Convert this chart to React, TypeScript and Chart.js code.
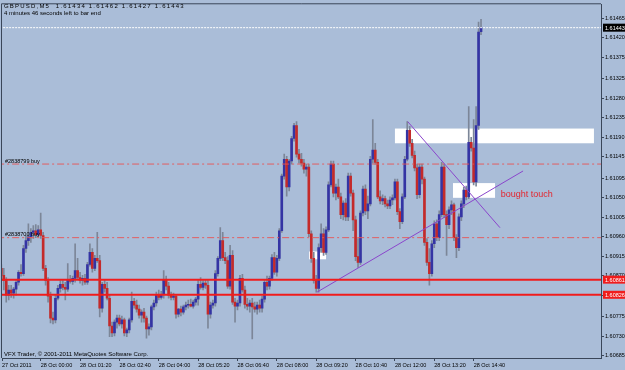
import React, { useEffect, useRef } from "react";
import { Chart, registerables } from "chart.js";

Chart.register(...registerables);

// ---------- data (GBPUSD M5, 27 Oct 22:40 .. 28 Oct 15:00) ----------
const OPEN = [
  1.60887, 1.60871, 1.60859, 1.60825, 1.60837, 1.6083, 1.60839, 1.60855, 1.60878, 1.60875,
  1.60933, 1.60951, 1.6096, 1.6097, 1.60974, 1.60965, 1.60976, 1.60963, 1.60887, 1.60859,
  1.60823, 1.60772, 1.60768, 1.60818, 1.60841, 1.6085, 1.60843, 1.60839, 1.60862, 1.60857,
  1.60864, 1.60882, 1.60866, 1.60859, 1.60864, 1.60855, 1.60896, 1.60924, 1.60887, 1.6091,
  1.60905, 1.60795, 1.6085, 1.60841, 1.60818, 1.60754, 1.60738, 1.60763, 1.60772, 1.60759,
  1.60768, 1.60738, 1.60745, 1.60768, 1.60811, 1.60802, 1.60793, 1.60779, 1.60786, 1.60772,
  1.60747, 1.60752, 1.60798, 1.60807, 1.60825, 1.6082, 1.60827, 1.60862, 1.60846, 1.60825,
  1.6082, 1.60823, 1.60781, 1.60793, 1.60786, 1.60798, 1.60802, 1.60804, 1.608, 1.60809,
  1.60816, 1.6085, 1.60843, 1.60853, 1.60848, 1.60781, 1.60802, 1.60807, 1.60875, 1.6091,
  1.60951, 1.60912, 1.60905, 1.60846, 1.60917, 1.60809, 1.608, 1.60807, 1.60864, 1.60837,
  1.60804, 1.608, 1.60807, 1.60798, 1.60793, 1.60802, 1.60795, 1.60816, 1.60855, 1.60846,
  1.60864, 1.60912, 1.60878, 1.6091, 1.60974, 1.611, 1.61139, 1.61075, 1.61135, 1.61187,
  1.61217, 1.61151, 1.61139, 1.6113, 1.61116, 1.61121, 1.60967, 1.6091, 1.60859, 1.60841,
  1.60935, 1.60967, 1.60924, 1.60976, 1.6108, 1.61128, 1.61061, 1.61075, 1.61052, 1.61011,
  1.61038, 1.61006, 1.611, 1.61061, 1.60999, 1.60914, 1.60901, 1.61015, 1.6107, 1.6102,
  1.61036, 1.61139, 1.6116, 1.61132, 1.61052, 1.61043, 1.61048, 1.61036, 1.61031, 1.61045,
  1.6105, 1.61087, 1.61018, 1.60995, 1.61052, 1.61139, 1.61206, 1.61176, 1.61148, 1.61119,
  1.61057, 1.61121, 1.61093, 1.60947, 1.60901, 1.60875, 1.60944, 1.6099, 1.60958, 1.61011,
  1.61121, 1.61011, 1.60988, 1.61022, 1.61034, 1.60958, 1.60935, 1.61006, 1.61036, 1.61068,
  1.61052, 1.61178, 1.61165, 1.61087, 1.61217, 1.61434,
];
const HIGH = [
  1.60896, 1.60887, 1.60866, 1.60848, 1.60848, 1.60843, 1.60859, 1.60882, 1.60896, 1.6094,
  1.60963, 1.6099, 1.60979, 1.60986, 1.60988, 1.60986, 1.61015, 1.6097, 1.60894, 1.60866,
  1.60832, 1.60786, 1.60825, 1.60848, 1.60859, 1.60859, 1.60855, 1.60898, 1.60871, 1.60869,
  1.60944, 1.6091, 1.60878, 1.60871, 1.60873, 1.60901, 1.60944, 1.60933, 1.60917, 1.6097,
  1.60917, 1.60855, 1.60862, 1.60855, 1.60825, 1.60763, 1.60768, 1.60779, 1.60779, 1.60777,
  1.60772, 1.60749, 1.60772, 1.60832, 1.60818, 1.60814, 1.60802, 1.60791, 1.60795, 1.60777,
  1.60759, 1.60802, 1.60814, 1.60832, 1.60837, 1.60834, 1.60882, 1.60869, 1.60855, 1.60832,
  1.6083, 1.60827, 1.60795, 1.608, 1.60802, 1.60809, 1.60814, 1.60816, 1.60814, 1.6082,
  1.60859, 1.60866, 1.60859, 1.60862, 1.60859, 1.60809, 1.60814, 1.60882, 1.60914, 1.60981,
  1.6097, 1.60924, 1.60914, 1.6094, 1.60928, 1.60818, 1.60814, 1.60871, 1.60873, 1.60846,
  1.60818, 1.60814, 1.60818, 1.60809, 1.60809, 1.60814, 1.60823, 1.60859, 1.60869, 1.60869,
  1.60919, 1.60924, 1.60917, 1.60979, 1.61105, 1.61151, 1.61146, 1.61139, 1.61192, 1.61222,
  1.61226, 1.61162, 1.61153, 1.61139, 1.61128, 1.61128, 1.60974, 1.60924, 1.60871, 1.60944,
  1.6099, 1.60979, 1.60983, 1.61087, 1.61135, 1.61135, 1.61082, 1.61093, 1.61061, 1.61043,
  1.61048, 1.61107, 1.61107, 1.61068, 1.61008, 1.60956, 1.6102, 1.61077, 1.6108, 1.61054,
  1.61146, 1.61231, 1.61176, 1.61139, 1.61066, 1.61057, 1.61054, 1.61045, 1.61052, 1.61057,
  1.61093, 1.61093, 1.61025, 1.61059, 1.61146, 1.61226, 1.61215, 1.61185, 1.61158, 1.61128,
  1.61128, 1.61128, 1.61098, 1.60956, 1.60933, 1.60951, 1.60997, 1.60999, 1.6102, 1.61132,
  1.61128, 1.6102, 1.61029, 1.61043, 1.61038, 1.60965, 1.61013, 1.61043, 1.61075, 1.61077,
  1.61261, 1.6119, 1.61231, 1.61261, 1.61456, 1.61462,
];
const LOW = [
  1.60859, 1.60837, 1.60809, 1.60814, 1.6082, 1.60818, 1.60825, 1.60848, 1.60869, 1.60871,
  1.60924, 1.6094, 1.60947, 1.60956, 1.60958, 1.6096, 1.60956, 1.60882, 1.60848, 1.60809,
  1.60761, 1.60759, 1.60761, 1.60814, 1.60832, 1.60837, 1.60814, 1.60834, 1.60853, 1.6085,
  1.60855, 1.60862, 1.60853, 1.60848, 1.6085, 1.6085, 1.60892, 1.60878, 1.60882, 1.60901,
  1.60775, 1.60786, 1.60832, 1.60814, 1.60729, 1.60729, 1.60731, 1.60749, 1.60754, 1.60749,
  1.60731, 1.60729, 1.60738, 1.60763, 1.60795, 1.60786, 1.60772, 1.60763, 1.60763, 1.60726,
  1.60733, 1.60745, 1.60791, 1.608, 1.60814, 1.60816, 1.60818, 1.60837, 1.60818, 1.60814,
  1.60814, 1.60772, 1.60775, 1.60777, 1.60781, 1.60791, 1.60795, 1.60798, 1.60795, 1.60802,
  1.60802, 1.60839, 1.60837, 1.60841, 1.60749, 1.60772, 1.60795, 1.608, 1.60869, 1.60905,
  1.60905, 1.60898, 1.60841, 1.60839, 1.60804, 1.60763, 1.60791, 1.608, 1.60832, 1.60795,
  1.60791, 1.60786, 1.60724, 1.60786, 1.60781, 1.60786, 1.60786, 1.60809, 1.60837, 1.60839,
  1.60859, 1.60873, 1.60869, 1.60905, 1.6097, 1.61093, 1.61054, 1.61066, 1.61128, 1.61181,
  1.61144, 1.6113, 1.61123, 1.61107, 1.611, 1.6096, 1.60901, 1.60853, 1.60832, 1.60832,
  1.60924, 1.60917, 1.60919, 1.60972, 1.61075, 1.61052, 1.61045, 1.61048, 1.61002, 1.60999,
  1.60997, 1.60997, 1.61054, 1.60974, 1.60905, 1.60889, 1.60896, 1.61008, 1.61011, 1.61002,
  1.61031, 1.6113, 1.61128, 1.61048, 1.61036, 1.61034, 1.61029, 1.61025, 1.61025, 1.61034,
  1.61045, 1.61011, 1.60979, 1.6099, 1.61048, 1.61135, 1.61169, 1.61142, 1.61112, 1.61048,
  1.6105, 1.61082, 1.6094, 1.60894, 1.60848, 1.60869, 1.60935, 1.60951, 1.60951, 1.61006,
  1.61004, 1.60917, 1.60979, 1.61011, 1.60951, 1.60912, 1.60928, 1.60997, 1.61027, 1.61045,
  1.61048, 1.61158, 1.6108, 1.61077, 1.61208, 1.61427,
];
const CLOSE = [
  1.60871, 1.60859, 1.60825, 1.60837, 1.6083, 1.60839, 1.60855, 1.60878, 1.60875, 1.60933,
  1.60951, 1.6096, 1.6097, 1.60974, 1.60965, 1.60976, 1.60963, 1.60887, 1.60859, 1.60823,
  1.60772, 1.60768, 1.60818, 1.60841, 1.6085, 1.60843, 1.60839, 1.60862, 1.60857, 1.60864,
  1.60882, 1.60866, 1.60859, 1.60864, 1.60855, 1.60896, 1.60924, 1.60887, 1.6091, 1.60905,
  1.60795, 1.6085, 1.60841, 1.60818, 1.60754, 1.60738, 1.60763, 1.60772, 1.60759, 1.60768,
  1.60738, 1.60745, 1.60768, 1.60811, 1.60802, 1.60793, 1.60779, 1.60786, 1.60772, 1.60747,
  1.60752, 1.60798, 1.60807, 1.60825, 1.6082, 1.60827, 1.60862, 1.60846, 1.60825, 1.6082,
  1.60823, 1.60781, 1.60793, 1.60786, 1.60798, 1.60802, 1.60804, 1.608, 1.60809, 1.60816,
  1.6085, 1.60843, 1.60853, 1.60848, 1.60781, 1.60802, 1.60807, 1.60875, 1.6091, 1.60951,
  1.60912, 1.60905, 1.60846, 1.60917, 1.60809, 1.608, 1.60807, 1.60864, 1.60837, 1.60804,
  1.608, 1.60807, 1.60798, 1.60793, 1.60802, 1.60795, 1.60816, 1.60855, 1.60846, 1.60864,
  1.60912, 1.60878, 1.6091, 1.60974, 1.611, 1.61139, 1.61075, 1.61135, 1.61187, 1.61217,
  1.61151, 1.61139, 1.6113, 1.61116, 1.61121, 1.60967, 1.6091, 1.60859, 1.60841, 1.60935,
  1.60967, 1.60924, 1.60976, 1.6108, 1.61128, 1.61061, 1.61075, 1.61052, 1.61011, 1.61038,
  1.61006, 1.611, 1.61061, 1.60999, 1.60914, 1.60901, 1.61015, 1.6107, 1.6102, 1.61036,
  1.61139, 1.6116, 1.61132, 1.61052, 1.61043, 1.61048, 1.61036, 1.61031, 1.61045, 1.6105,
  1.61087, 1.61018, 1.60995, 1.61052, 1.61139, 1.61206, 1.61176, 1.61148, 1.61119, 1.61057,
  1.61121, 1.61093, 1.60947, 1.60901, 1.60875, 1.60944, 1.6099, 1.60958, 1.61011, 1.61121,
  1.61011, 1.60988, 1.61022, 1.61034, 1.60958, 1.60935, 1.61006, 1.61036, 1.61068, 1.61052,
  1.61178, 1.61165, 1.61087, 1.61217, 1.61433, 1.61443,
];

// bar index of each time label, and the labels
const X_TICKS = [0, 16, 32, 48, 64, 80, 96, 112, 128, 144, 160, 176, 192];
const X_TICK_LABELS = [
  "27 Oct 2011", "28 Oct 00:00", "28 Oct 01:20", "28 Oct 02:40", "28 Oct 04:00",
  "28 Oct 05:20", "28 Oct 06:40", "28 Oct 08:00", "28 Oct 09:20", "28 Oct 10:40",
  "28 Oct 12:00", "28 Oct 13:20", "28 Oct 14:40",
];
const Y_TICKS = [
  1.61465, 1.6142, 1.61375, 1.61325, 1.6128, 1.61235, 1.6119, 1.61145, 1.61095,
  1.6105, 1.61005, 1.6096, 1.60915, 1.6087, 1.60825, 1.60775, 1.6073, 1.60685,
];

// chart objects
const BID_PRICE = 1.61443;
const ORDER_PRICES = [1.61128, 1.60958];
const ORDER_LABELS = ["#2838799 buy", "#2838700 buy"];
const LEVEL_PRICES = [1.60861, 1.60826];
const TREND_UP = [{ x: 128.3, y: 1.60832 }, { x: 212.1, y: 1.61112 }];
const TREND_DOWN = [{ x: 165.2, y: 1.61226 }, { x: 202.7, y: 1.60981 }];
const RECT_X0 = [160.0, 183.6, 125.1];
const RECT_X1 = [240.9, 200.7, 132.0];
const RECT_TOP = [1.6121, 1.61084, 1.60926];
const RECT_BOTTOM = [1.61176, 1.6105, 1.60908];
const NOTE_TEXT = "bought touch";
const NOTE_X = 203.0;
const NOTE_Y = 1.61057;

const TITLE_1 = "GBPUSD,M5  1.61434 1.61462 1.61427 1.61443";
const TITLE_2 = "4 minutes 46 seconds left to bar end";
const COPYRIGHT = "VFX Trader, \u00a9 2001-2011 MetaQuotes Software Corp.";

// ---------- styles ----------
const FONT = "'Liberation Sans', Arial, sans-serif";
const BG = "#aabdd8";
const FRAME = "#3a4659";
const BULL = "#3434a4";
const BEAR = "#c42a2a";
const WICK = "#7c8698";

export default function App() {
  const canvasRef = useRef<HTMLCanvasElement | null>(null);

  useEffect(() => {
    document.body.style.margin = "0";
    const canvas = canvasRef.current;
    if (!canvas) return;

    const idx = OPEN.map((_, i) => i);
    const bodyColors = idx.map((i) => (CLOSE[i] >= OPEN[i] ? BULL : BEAR));
    const hline = (p: number) => [{ x: -20, y: p }, { x: 300, y: p }];
    const lineDs = (data: any[], color: string, width: number, dash: number[]) => ({
      type: "line" as const,
      data,
      borderColor: color,
      borderWidth: width,
      borderDash: dash,
      pointRadius: 0,
      pointHoverRadius: 0,
      fill: false,
      tension: 0,
      order: 0,
    });

    const decor = {
      id: "decor",
      beforeDraw(chart: any) {
        const { ctx, width, height } = chart;
        ctx.save();
        ctx.fillStyle = BG;
        ctx.fillRect(0, 0, width, height);
        ctx.restore();
      },
      beforeDatasetsDraw(chart: any) {
        const { ctx, chartArea: a, scales } = chart;
        const xs = scales.x;
        const ys = scales.y;
        ctx.save();
        ctx.beginPath();
        ctx.rect(a.left, a.top, a.right - a.left, a.bottom - a.top);
        ctx.clip();
        ctx.fillStyle = "#ffffff";
        for (let k = 0; k < RECT_X0.length; k++) {
          const x0 = xs.getPixelForValue(RECT_X0[k]);
          const x1 = xs.getPixelForValue(RECT_X1[k]);
          const y0 = ys.getPixelForValue(RECT_TOP[k]);
          const y1 = ys.getPixelForValue(RECT_BOTTOM[k]);
          ctx.fillRect(x0, y0, x1 - x0, y1 - y0);
        }
        ctx.restore();
      },
      afterDraw(chart: any) {
        const { ctx, chartArea: a, scales } = chart;
        const xs = scales.x;
        const ys = scales.y;
        ctx.save();
        // frame (left, top)
        ctx.strokeStyle = FRAME;
        ctx.lineWidth = 1;
        ctx.beginPath();
        ctx.moveTo(a.left - 0.5, a.bottom);
        ctx.lineTo(a.left - 0.5, a.top - 0.5);
        ctx.lineTo(a.right, a.top - 0.5);
        ctx.stroke();

        ctx.fillStyle = "#000";
        ctx.textAlign = "left";
        ctx.textBaseline = "middle";
        ctx.font = `6px ${FONT}`;
        (ctx as any).letterSpacing = "1.2px";
        ctx.fillText(TITLE_1, 4, 6);
        (ctx as any).letterSpacing = "0px";
        ctx.fillText(TITLE_2, 4, 13.5);
        ctx.fillText(COPYRIGHT, 4, 354);

        ctx.font = `5.5px ${FONT}`;
        for (let k = 0; k < ORDER_PRICES.length; k++) {
          ctx.fillText(ORDER_LABELS[k], 5, ys.getPixelForValue(ORDER_PRICES[k]) - 3);
        }

        ctx.fillStyle = "#e3262e";
        ctx.font = `9px ${FONT}`;
        ctx.fillText(NOTE_TEXT, xs.getPixelForValue(NOTE_X), ys.getPixelForValue(NOTE_Y));

        // price badges on the axis
        const badge = (p: number, color: string) => {
          const yp = ys.getPixelForValue(p);
          ctx.fillStyle = color;
          ctx.fillRect(a.right + 2, yp - 4, chart.width - a.right - 2, 8);
          ctx.fillStyle = "#fff";
          ctx.font = `5.5px ${FONT}`;
          ctx.fillText(p.toFixed(5), a.right + 4, yp + 0.5);
        };
        badge(BID_PRICE, "#000");
        LEVEL_PRICES.forEach((p) => badge(p, "#f01c1c"));
        ctx.restore();
      },
    };

    const chart = new Chart(canvas, {
      type: "bar",
      data: {
        datasets: [
          lineDs(hline(BID_PRICE), "#ffffff", 1, [2, 1]),
          ...ORDER_PRICES.map((p) => lineDs(hline(p), "rgba(232,84,84,0.9)", 1, [7, 3, 2, 3])),
          ...LEVEL_PRICES.map((p) => lineDs(hline(p), "#f01c1c", 2, [])),
          lineDs(TREND_UP, "#8a46cc", 1, []),
          lineDs(TREND_DOWN, "#8a46cc", 1, []),
          {
            type: "bar" as const,
            data: idx.map((i) => ({ x: i, y: [OPEN[i], CLOSE[i]] })) as any,
            backgroundColor: bodyColors,
            barThickness: 2,
            grouped: false,
            borderWidth: 0,
            order: 2,
          },
          {
            type: "bar" as const,
            data: idx.map((i) => ({ x: i, y: [LOW[i], HIGH[i]] })) as any,
            backgroundColor: WICK,
            barThickness: 1,
            grouped: false,
            borderWidth: 0,
            order: 3,
          },
        ] as any,
      },
      options: {
        responsive: false,
        maintainAspectRatio: false,
        devicePixelRatio: 1,
        animation: false,
        events: [],
        layout: { padding: { left: 2, top: 2, right: 0, bottom: 0 } },
        plugins: { legend: { display: false }, tooltip: { enabled: false } },
        scales: {
          x: {
            type: "linear",
            min: 0.27,
            max: 243.77,
            offset: false,
            grid: { display: true, drawOnChartArea: false, drawTicks: true, tickLength: 3, color: FRAME, offset: false },
            border: { display: true, color: FRAME, width: 1 },
            ticks: {
              autoSkip: false,
              maxRotation: 0,
              minRotation: 0,
              align: "start",
              padding: 1,
              color: "#000",
              font: { size: 5.5, family: FONT },
              callback: (_v: any, i: number) => X_TICK_LABELS[i] ?? "",
            },
            afterBuildTicks: (s: any) => {
              s.ticks = X_TICKS.map((v) => ({ value: Math.max(v, s.min) }));
            },
            afterFit: (s: any) => {
              s.height = 12;
            },
          },
          y: {
            type: "linear",
            position: "right",
            min: 1.6068,
            max: 1.61497,
            grid: { display: true, drawOnChartArea: false, drawTicks: true, tickLength: 3, color: FRAME },
            border: { display: true, color: FRAME, width: 1 },
            ticks: {
              autoSkip: false,
              padding: 1,
              color: "#000",
              font: { size: 5.5, family: FONT },
              callback: (v: any) => Number(v).toFixed(5),
            },
            afterBuildTicks: (s: any) => {
              s.ticks = Y_TICKS.map((v) => ({ value: v }));
            },
            afterFit: (s: any) => {
              s.width = 24;
            },
          },
        },
      } as any,
      plugins: [decor],
    });

    return () => chart.destroy();
  }, []);

  return (
    <div style={{ position: "fixed", left: 0, top: 0, width: 625, height: 370, background: BG }}>
      <canvas ref={canvasRef} width={625} height={370} style={{ display: "block", width: 625, height: 370 }} />
    </div>
  );
}
